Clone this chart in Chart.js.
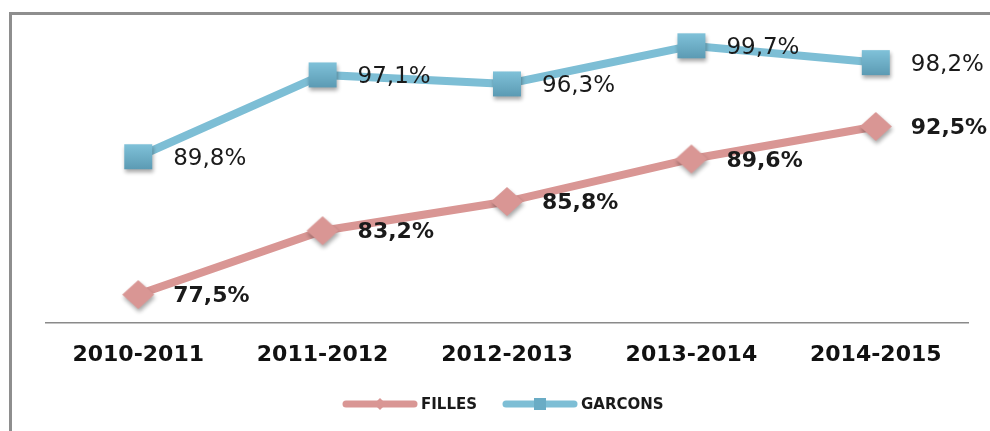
<!DOCTYPE html>
<html>
<head>
<meta charset="utf-8">
<script src="https://cdn.jsdelivr.net/npm/chart.js@4"></script>
<style>
  body { margin: 0; background: #fff; }
  #frame {
    position: absolute; left: 9px; top: 12px; width: 990px; height: 431px;
    border-left: 3px solid #8e8e8e; border-top: 3px solid #8e8e8e;
  }
  #chart { position: absolute; left: 0; top: 0; }
</style>
</head>
<body>
<div id="frame"></div>
<canvas id="chart" width="990" height="431"></canvas>
<script>
const categories = ["2010-2011", "2011-2012", "2012-2013", "2013-2014", "2014-2015"];
const filles = [77.5, 83.2, 85.8, 89.6, 92.5];
const garcons = [89.8, 97.1, 96.3, 99.7, 98.2];
const seriesNames = ["FILLES", "GARCONS"];

const pinkLine = "#d99694";
const blueLine = "#7dbed5";

// marqueurs dessinés dans un petit canvas (dégradé + ombre)
function makeMarker(kind, w, h, shadow) {
  const pad = 8;
  const c = document.createElement("canvas");
  c.width = w + pad * 2;
  c.height = h + pad * 2;
  const g = c.getContext("2d");
  if (shadow) {
    g.shadowColor = "rgba(0,0,0,0.35)";
    g.shadowBlur = 4;
    g.shadowOffsetX = 1;
    g.shadowOffsetY = 3;
  }
  if (kind === "square") {
    const grad = g.createLinearGradient(0, pad, 0, pad + h);
    grad.addColorStop(0, "#80c2d9");
    grad.addColorStop(1, "#5c9bb4");
    g.fillStyle = grad;
    g.fillRect(pad, pad, w, h);
  } else {
    g.fillStyle = pinkLine;
    g.beginPath();
    g.moveTo(pad + w / 2, pad);
    g.lineTo(pad + w, pad + h / 2);
    g.lineTo(pad + w / 2, pad + h);
    g.lineTo(pad, pad + h / 2);
    g.closePath();
    g.fill();
  }
  return c;
}

const squareMarker = makeMarker("square", 28, 25, true);
const diamondMarker = makeMarker("diamond", 32, 29, true);

const fmt = (v) => v.toFixed(1).replace(".", ",") + "%";

const valueLabels = {
  id: "valueLabels",
  afterDatasetsDraw(chart) {
    const ctx = chart.ctx;
    ctx.save();
    ctx.fillStyle = "#1a1a1a";
    ctx.textAlign = "left";
    ctx.textBaseline = "middle";
    chart.data.datasets.forEach((ds, i) => {
      const meta = chart.getDatasetMeta(i);
      ctx.font = i === 0 ? "bold 22px 'DejaVu Sans'" : "23px 'DejaVu Sans'";
      meta.data.forEach((pt, j) => {
        ctx.fillText(fmt(ds.data[j]), pt.x + 35, pt.y + 2);
      });
    });
    ctx.restore();
  },
};

const customLegend = {
  id: "customLegend",
  afterDraw(chart) {
    const ctx = chart.ctx;
    const y = 404;
    const items = [
      { x: 346, color: pinkLine, marker: "diamond", text: seriesNames[0] },
      { x: 506, color: blueLine, marker: "square", text: seriesNames[1] },
    ];
    ctx.save();
    items.forEach((it) => {
      ctx.strokeStyle = it.color;
      ctx.lineWidth = 7;
      ctx.lineCap = "round";
      ctx.beginPath();
      ctx.moveTo(it.x, y);
      ctx.lineTo(it.x + 68, y);
      ctx.stroke();
      const mx = it.x + 34;
      if (it.marker === "square") {
        ctx.fillStyle = "#6aacc5";
        ctx.fillRect(mx - 6, y - 6, 12, 12);
      } else {
        ctx.fillStyle = pinkLine;
        ctx.beginPath();
        ctx.moveTo(mx, y - 6);
        ctx.lineTo(mx + 6, y);
        ctx.lineTo(mx, y + 6);
        ctx.lineTo(mx - 6, y);
        ctx.closePath();
        ctx.fill();
      }
      ctx.fillStyle = "#1a1a1a";
      ctx.font = "bold 15px 'DejaVu Sans'";
      ctx.textAlign = "left";
      ctx.textBaseline = "middle";
      ctx.fillText(it.text, it.x + 75, y + 1);
    });
    ctx.restore();
  },
};

new Chart(document.getElementById("chart"), {
  type: "line",
  data: {
    labels: categories,
    datasets: [
      {
        label: seriesNames[0],
        data: filles,
        borderColor: pinkLine,
        borderWidth: 8,
        pointStyle: diamondMarker,
        tension: 0,
      },
      {
        label: seriesNames[1],
        data: garcons,
        borderColor: blueLine,
        borderWidth: 8,
        pointStyle: squareMarker,
        tension: 0,
      },
    ],
  },
  options: {
    responsive: false,
    animation: false,
    layout: { padding: { left: 46, right: 22, top: 20, bottom: 44 } },
    plugins: {
      legend: { display: false },
      tooltip: { enabled: false },
    },
    scales: {
      x: {
        offset: true,
        grid: { display: false, drawTicks: false },
        border: { display: true, color: "#8a8a8a", width: 1.5 },
        ticks: {
          padding: 19,
          color: "#111",
          font: { family: "DejaVu Sans", size: 22, weight: "bold" },
        },
      },
      y: {
        display: false,
        min: 75,
        max: 102,
      },
    },
  },
  plugins: [valueLabels, customLegend],
});
</script>
</body>
</html>
